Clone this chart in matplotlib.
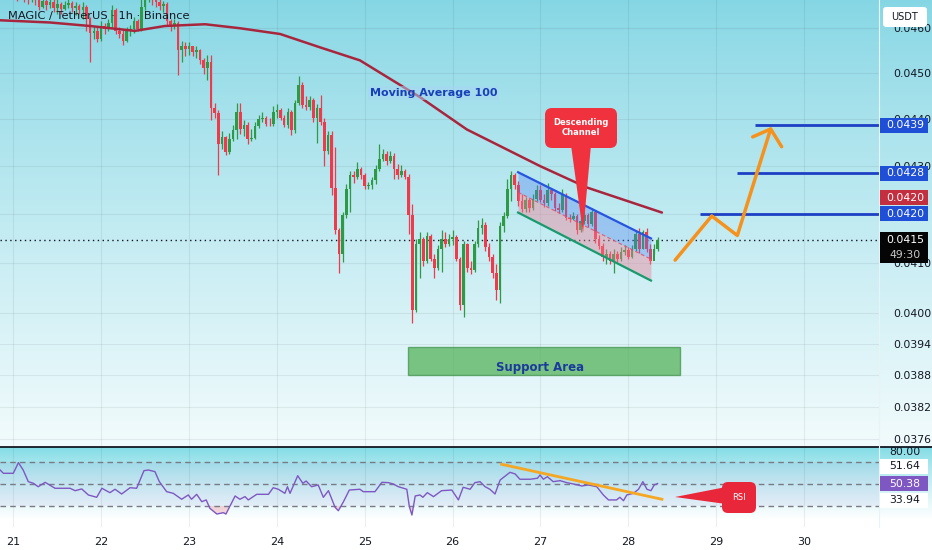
import numpy as np
import matplotlib
matplotlib.use("Agg")
import matplotlib.pyplot as plt
from matplotlib.patches import FancyBboxPatch, Polygon, Rectangle
from matplotlib.lines import Line2D
from matplotlib.ticker import FixedLocator, NullLocator

# ---------------- data ----------------
first_hour = -3          # hours relative to day 21 00:00
first_open = 0.04680
closes = [0.04692, 0.04685, 0.04698, 0.04681, 0.04677, 0.04690, 0.04672, 0.04668, 0.04677, 0.04666,
          0.04648, 0.04661, 0.04653, 0.04659, 0.04646, 0.04655, 0.04644, 0.04653, 0.04657, 0.04646,
          0.04650, 0.04642, 0.04648, 0.04620, 0.04589, 0.04594, 0.04576, 0.04605, 0.04598, 0.04611,
          0.04642, 0.04594, 0.04587, 0.04572, 0.04594, 0.04598, 0.04616, 0.04598, 0.04648, 0.04670,
          0.04681, 0.04666, 0.04659, 0.04650, 0.04655, 0.04616, 0.04605, 0.04611, 0.04550, 0.04561,
          0.04554, 0.04559, 0.04546, 0.04550, 0.04528, 0.04511, 0.04524, 0.04424, 0.04413, 0.04345,
          0.04360, 0.04328, 0.04356, 0.04375, 0.04415, 0.04377, 0.04387, 0.04356, 0.04358, 0.04385,
          0.04400, 0.04402, 0.04389, 0.04388, 0.04415, 0.04419, 0.04402, 0.04387, 0.04415, 0.04375,
          0.04435, 0.04474, 0.04430, 0.04426, 0.04441, 0.04402, 0.04424, 0.04394, 0.04330, 0.04366,
          0.04254, 0.04167, 0.04117, 0.04197, 0.04250, 0.04280, 0.04275, 0.04292, 0.04280, 0.04257,
          0.04259, 0.04269, 0.04292, 0.04313, 0.04324, 0.04309, 0.04320, 0.04292, 0.04280, 0.04288,
          0.04275, 0.04197, 0.04006, 0.04137, 0.04147, 0.04103, 0.04153, 0.04107, 0.04090, 0.04127,
          0.04147, 0.04137, 0.04147, 0.04151, 0.04107, 0.04016, 0.04137, 0.04090, 0.04086, 0.04137,
          0.04171, 0.04177, 0.04131, 0.04111, 0.04080, 0.04046, 0.04175, 0.04195, 0.04250, 0.04280,
          0.04259, 0.04225, 0.04210, 0.04227, 0.04212, 0.04231, 0.04248, 0.04229, 0.04221, 0.04248,
          0.04240, 0.04212, 0.04208, 0.04238, 0.04191, 0.04189, 0.04195, 0.04167, 0.04185, 0.04197,
          0.04179, 0.04204, 0.04147, 0.04133, 0.04111, 0.04117, 0.04103, 0.04117, 0.04107, 0.04121,
          0.04125, 0.04111, 0.04127, 0.04159, 0.04127, 0.04163, 0.04127, 0.04103, 0.04127, 0.04145]
highs = [0.04714, 0.04703, 0.04714, 0.04703, 0.04692, 0.04703, 0.04692, 0.04685, 0.04690, 0.04681,
         0.04670, 0.04677, 0.04670, 0.04672, 0.04666, 0.04668, 0.04659, 0.04663, 0.04668, 0.04663,
         0.04659, 0.04655, 0.04659, 0.04653, 0.04626, 0.04605, 0.04602, 0.04616, 0.04611, 0.04620,
         0.04653, 0.04646, 0.04602, 0.04598, 0.04602, 0.04607, 0.04626, 0.04620, 0.04670, 0.04692,
         0.04703, 0.04692, 0.04677, 0.04670, 0.04663, 0.04659, 0.04620, 0.04620, 0.04616, 0.04572,
         0.04568, 0.04568, 0.04561, 0.04559, 0.04554, 0.04533, 0.04539, 0.04539, 0.04435, 0.04419,
         0.04373, 0.04364, 0.04370, 0.04387, 0.04435, 0.04435, 0.04398, 0.04394, 0.04377, 0.04394,
         0.04408, 0.04415, 0.04406, 0.04402, 0.04428, 0.04432, 0.04424, 0.04408, 0.04424, 0.04419,
         0.04441, 0.04493, 0.04480, 0.04450, 0.04450, 0.04446, 0.04432, 0.04452, 0.04402, 0.04373,
         0.04373, 0.04339, 0.04171, 0.04204, 0.04261, 0.04288, 0.04288, 0.04307, 0.04297, 0.04284,
         0.04265, 0.04275, 0.04301, 0.04345, 0.04335, 0.04330, 0.04330, 0.04326, 0.04303, 0.04301,
         0.04292, 0.04282, 0.04219, 0.04147, 0.04163, 0.04151, 0.04163, 0.04157, 0.04117, 0.04135,
         0.04167, 0.04163, 0.04157, 0.04167, 0.04155, 0.04111, 0.04143, 0.04139, 0.04103, 0.04143,
         0.04187, 0.04191, 0.04183, 0.04139, 0.04117, 0.04097, 0.04183, 0.04204, 0.04271, 0.04288,
         0.04284, 0.04267, 0.04240, 0.04235, 0.04233, 0.04240, 0.04259, 0.04259, 0.04240, 0.04263,
         0.04254, 0.04244, 0.04221, 0.04250, 0.04242, 0.04199, 0.04204, 0.04199, 0.04191, 0.04204,
         0.04202, 0.04212, 0.04208, 0.04155, 0.04139, 0.04127, 0.04123, 0.04127, 0.04123, 0.04131,
         0.04135, 0.04131, 0.04135, 0.04167, 0.04171, 0.04167, 0.04171, 0.04137, 0.04137, 0.04151]
lows = [0.04677, 0.04670, 0.04681, 0.04668, 0.04663, 0.04670, 0.04659, 0.04655, 0.04659, 0.04653,
        0.04642, 0.04646, 0.04642, 0.04646, 0.04637, 0.04633, 0.04633, 0.04642, 0.04646, 0.04637,
        0.04629, 0.04633, 0.04620, 0.04594, 0.04524, 0.04576, 0.04568, 0.04572, 0.04587, 0.04594,
        0.04602, 0.04587, 0.04578, 0.04563, 0.04568, 0.04583, 0.04589, 0.04594, 0.04594, 0.04642,
        0.04659, 0.04653, 0.04648, 0.04642, 0.04637, 0.04607, 0.04594, 0.04598, 0.04496, 0.04524,
        0.04537, 0.04539, 0.04537, 0.04533, 0.04520, 0.04498, 0.04485, 0.04398, 0.04402, 0.04280,
        0.04335, 0.04322, 0.04324, 0.04352, 0.04356, 0.04368, 0.04364, 0.04345, 0.04352, 0.04356,
        0.04381, 0.04394, 0.04385, 0.04385, 0.04385, 0.04402, 0.04398, 0.04383, 0.04381, 0.04366,
        0.04370, 0.04430, 0.04424, 0.04419, 0.04419, 0.04394, 0.04349, 0.04387, 0.04299, 0.04324,
        0.04238, 0.04157, 0.04080, 0.04101, 0.04191, 0.04204, 0.04263, 0.04271, 0.04271, 0.04250,
        0.04250, 0.04250, 0.04261, 0.04288, 0.04309, 0.04301, 0.04305, 0.04271, 0.04271, 0.04275,
        0.04271, 0.04157, 0.03980, 0.04002, 0.04070, 0.04094, 0.04099, 0.04103, 0.04070, 0.04086,
        0.04082, 0.04131, 0.04133, 0.04135, 0.04103, 0.04006, 0.03992, 0.04082, 0.04078, 0.04082,
        0.04131, 0.04159, 0.04123, 0.04103, 0.04070, 0.04026, 0.04020, 0.04163, 0.04191, 0.04225,
        0.04250, 0.04216, 0.04204, 0.04204, 0.04204, 0.04208, 0.04225, 0.04223, 0.04214, 0.04216,
        0.04229, 0.04206, 0.04202, 0.04204, 0.04187, 0.04183, 0.04187, 0.04157, 0.04163, 0.04179,
        0.04173, 0.04175, 0.04139, 0.04127, 0.04103, 0.04097, 0.04097, 0.04080, 0.04101, 0.04103,
        0.04115, 0.04107, 0.04109, 0.04123, 0.04119, 0.04127, 0.04121, 0.04097, 0.04117, 0.04123]

ma_hours = [-3.6, 10, 21, 33.2, 41.4, 52.4, 61.9, 72.9, 83.8, 94.7, 111.1, 123.9, 143.9, 156.7, 177.2]
ma_values = [0.04618, 0.04613, 0.04605, 0.04594, 0.04605, 0.04609, 0.04600, 0.04587, 0.04557,
             0.04528, 0.04447, 0.04377, 0.04299, 0.04254, 0.04202]

rsi_hours = [-3.6, -2.7, 0, 1.4, 2.7, 4.1, 5.5, 6.8, 8.7, 11.4, 15.5, 16.9, 18.7, 20.5, 22.8, 24.2,
             26.4, 27.8, 29.6, 31.9, 33.7, 35.7, 36.9, 38.7, 39.9, 41.9, 43.7, 46.0, 47.8, 48.7,
             50.1, 51.5, 52.7, 53.7, 55.6, 57.4, 58.1, 60.6, 61.9, 63.3, 64.2, 66.5, 69.7, 71.0,
             72.4, 74.2, 74.9, 75.6, 77.7, 79.1, 80.0, 81.5, 83.3, 84.7, 86.1, 87.9, 88.8, 90.2,
             91.8, 94.7, 95.6, 98.8, 100.7, 102.5, 103.8, 105.2, 107.5, 108.2, 108.9, 109.8, 111.1,
             111.9, 113.1, 114.8, 117.0, 119.8, 121.6, 122.9, 124.8, 126.1, 127.5, 128.9, 130.2,
             131.6, 133.0, 135.7, 137.1, 138.4, 141.2, 143.2, 143.9, 144.8, 145.9, 147.5, 149.4,
             151.2, 153.0, 155.3, 157.1, 159.4, 161.2, 162.6, 164.8, 165.7, 166.7, 167.6, 169.4,
             170.8, 172.0, 173.1, 174.2, 175.1, 176.0]
rsi_values = [62.7, 59.7, 59.7, 69.4, 62.7, 52.1, 50.6, 47.5, 51.5, 46.1, 46.1, 43.9, 45.5, 40.0,
              37.9, 46.1, 42.1, 45.2, 40.9, 46.6, 46.1, 62.1, 62.7, 61.2, 52.1, 43.0, 41.5, 36.1,
              40.0, 36.1, 40.6, 33.9, 35.5, 27.9, 22.7, 23.9, 22.7, 39.1, 36.1, 38.5, 35.5, 40.6,
              40.6, 46.6, 45.2, 41.5, 47.5, 41.5, 57.5, 50.6, 52.7, 47.5, 49.1, 37.9, 43.9, 28.8,
              25.7, 33.9, 44.5, 45.2, 43.0, 43.0, 51.5, 51.2, 50.0, 47.5, 45.2, 29.4, 21.8, 39.1,
              40.0, 37.9, 42.1, 38.5, 43.9, 44.5, 35.5, 47.0, 45.2, 51.2, 52.1, 47.5, 45.2, 40.9,
              53.6, 60.6, 59.1, 54.3, 54.3, 55.2, 58.2, 54.3, 56.6, 52.1, 53.0, 51.2, 50.0, 48.2,
              49.1, 47.5, 40.0, 35.5, 35.5, 37.9, 34.8, 40.0, 41.5, 45.2, 52.1, 45.2, 43.9, 49.1, 50.4]

channel_hours = [137.9, 174.2]
channel_upper = [0.04286, 0.04149]
channel_mid = [0.04244, 0.04107]
channel_lower = [0.04202, 0.04064]

target_levels = [0.04200, 0.04284, 0.04386]
target_labels = ["0.0420", "0.0428", "0.0439"]
target_start_hours = [187.6, 197.7, 202.6]

path_hours = [180.8, 190.8, 197.8, 206.9]
path_prices = [0.04105, 0.04195, 0.04155, 0.04378]
head_hours = [202.0, 206.9, 209.9]
head_prices = [0.04361, 0.04378, 0.04340]

support_hours = [107.8, 182.2]
support_prices = [0.03880, 0.03933]

rsi_trend_hours = [133.4, 177.2]
rsi_trend_values = [67.9, 36.1]

price_ticks = [0.0376, 0.0382, 0.0388, 0.0394, 0.0400, 0.0410, 0.0420, 0.0430, 0.0440, 0.0450, 0.0460]
hidden_ticks = [0.0420]   # fully covered by the price tags in the reference
day_labels = ["21", "22", "23", "24", "25", "26", "27", "28", "29", "30"]
ma_label_value = "0.0420"
price_label_value = "0.0415"
countdown = "49:30"
rsi_side_labels = ["80.00", "51.64", "50.38", "33.94"]

# ---------------- figure ----------------
W, H = 932, 550
plt.rcParams['font.family'] = ['DejaVu Sans']
fig = plt.figure(figsize=(W / 100, H / 100), dpi=100)
TXT = '#131722'

# background gradient
bg = fig.add_axes([0, 0, 1, 1], zorder=-10)
grad = np.ones((H, 1, 3))
c_top = np.array([0.52, 0.84, 0.895])
c_bot = np.array([0.95, 0.985, 0.99])
r_top = np.array([0.50, 0.86, 0.90])
for r in range(H):
    if r <= 446:
        f = (r / 446.0) ** 0.85
        grad[r, 0] = c_top + (c_bot - c_top) * f
    elif r <= 527:
        f = min(1.0, (r - 447) / 72.0) ** 0.8
        grad[r, 0] = r_top + (np.ones(3) - r_top) * f
bg.imshow(grad, aspect='auto', extent=[0, 1, 0, 1], interpolation='bilinear')
bg.axis('off')

PLOT_R = 879
ax = fig.add_axes([0, 1 - 446 / H, PLOT_R / W, 446 / H])
rax = fig.add_axes([0, 1 - 527 / H, PLOT_R / W, 80 / H])
for a in (ax, rax):
    a.set_facecolor('none')
    for s in a.spines.values():
        s.set_visible(False)

xlim = (-3.63, 236.5)
ax.set_yscale('log')
ax.set_ylim(0.03747, 0.046642)
ax.set_xlim(*xlim)
ax.yaxis.set_major_locator(FixedLocator(price_ticks))
ax.yaxis.set_minor_locator(NullLocator())
ax.set_yticklabels(["" if p in hidden_ticks else f"{p:.4f}" for p in price_ticks])
ax.yaxis.tick_right()
ax.tick_params(axis='y', length=0, pad=10, labelsize=7.8, labelcolor=TXT)
day_hours = [24 * i for i in range(len(day_labels))]
ax.set_xticks(day_hours)
ax.tick_params(axis='x', length=0, labelbottom=False)
ax.grid(True, color='#2a2e39', alpha=0.08, lw=0.8)

# candles
t = np.arange(first_hour, first_hour + len(closes))
c = np.array(closes)
o = np.array([first_open] + closes[:-1])
up = c >= o
cols = np.where(up, '#2e9a46', '#ef3a4b')
ax.vlines(t, lows, highs, colors=cols, lw=0.9, zorder=3)
ax.bar(t, np.abs(c - o), bottom=np.minimum(o, c), width=0.72, color=cols, lw=0, zorder=4)

# MA 100
ax.plot(ma_hours, ma_values, color='#a8263d', lw=1.8, zorder=5, solid_capstyle='round')

# channel
ax.fill_between(channel_hours, channel_mid, channel_upper, color='#4f7ff0', alpha=0.35, lw=0, zorder=6)
ax.fill_between(channel_hours, channel_lower, channel_mid, color='#f07f95', alpha=0.42, lw=0, zorder=6)
ax.plot(channel_hours, channel_upper, color='#2755e0', lw=1.6, zorder=7)
ax.plot(channel_hours, channel_lower, color='#189a6c', lw=1.6, zorder=7)
ax.plot(channel_hours, channel_mid, color='#e0506a', lw=0.9, ls=(0, (3, 2)), alpha=0.8, zorder=7)

# current price line
ax.axhline(closes[-1], color=TXT, lw=1, ls=(0, (1, 2.5)), zorder=2)

# targets
for lvl, st in zip(target_levels, target_start_hours):
    ax.hlines(lvl, st, xlim[1], color='#1c3fc4', lw=2, zorder=7)

# orange projection
ax.plot(path_hours, path_prices, color='#f5921e', lw=2.5, zorder=8, solid_capstyle='round', solid_joinstyle='round')
ax.plot(head_hours, head_prices, color='#f5921e', lw=2.5, zorder=8, solid_capstyle='round', solid_joinstyle='round')

# support area
ax.add_patch(Rectangle((support_hours[0], support_prices[0]), support_hours[1] - support_hours[0],
                       support_prices[1] - support_prices[0], facecolor='#4caf50', alpha=0.7,
                       edgecolor='#3d8f48', lw=1, zorder=2))
ax.text(np.mean(support_hours) - 1, 0.03895, "Support Area", ha='center', va='center',
        fontsize=8.5, fontweight='bold', color='#1a3a9c', zorder=9)

ax.text(114.9, 0.04456, "Moving Average 100", ha='center', va='center', fontsize=8,
        fontweight='bold', color='#1740b8', zorder=9,
        bbox=dict(boxstyle='square,pad=0.15', fc='#a8d4f2', ec='none', alpha=0.5))

ax.text(8 / PLOT_R, 1 - 16 / 446, "MAGIC / TetherUS · 1h · Binance", transform=ax.transAxes,
        ha='left', va='center', fontsize=8.2, color=TXT, zorder=10)

# RSI panel
rax.set_xlim(*xlim)
rax.set_ylim(10.9, 83.6)
rax.set_yticks([])
rax.set_xticks(day_hours)
rax.set_xticklabels(day_labels)
rax.tick_params(axis='x', length=0, pad=7, labelsize=8, labelcolor=TXT)
rax.grid(True, axis='x', color='#2a2e39', alpha=0.08, lw=0.8)
rax.axhspan(30, 70, color='#7e57c2', alpha=0.07, lw=0)
for lv in (70, 50, 30):
    rax.axhline(lv, color='#787b86', lw=1, ls=(0, (4, 3)), zorder=2)
rv = np.array(rsi_values)
rax.fill_between(rsi_hours, rv, 30, where=rv < 30, interpolate=True, color='#f23645', alpha=0.2, lw=0)
rax.plot(rsi_hours, rsi_values, color='#7e57c2', lw=1, zorder=4)
rax.plot(rsi_trend_hours, rsi_trend_values, color='#f5a623', lw=2, zorder=5)

# separator line
fig.add_artist(Line2D([0, 1], [1 - 446.5 / H] * 2, transform=fig.transFigure, color=TXT, lw=1.3))
fig.add_artist(Line2D([PLOT_R / W] * 2, [1 - 527 / H, 1], transform=fig.transFigure, color='#e6f4f6', lw=0.8))

# overlay in pixel coordinates for tags and callouts
ov = fig.add_axes([0, 0, 1, 1], zorder=20)
ov.set_xlim(0, W)
ov.set_ylim(H, 0)
ov.axis('off')
ov.set_facecolor('none')


def py_price(p):
    return H - ax.transData.transform((0, p))[1]


def py_rsi(v):
    return H - rax.transData.transform((0, v))[1]


def tag(yc, text, fc, tc='white', h=15):
    ov.add_patch(Rectangle((880, yc - h / 2), 48, h, fc=fc, ec='none'))
    ov.text(905, yc, text, ha='center', va='center', fontsize=7.8, color=tc)


# USDT box
ov.add_patch(FancyBboxPatch((883, 7), 44, 20, boxstyle='round,pad=0,rounding_size=3', fc='white', ec='none'))
ov.text(905, 17.5, "USDT", ha='center', va='center', fontsize=7, color=TXT)

tag(py_price(target_levels[2]), target_labels[2], '#1f4fd6')
tag(py_price(target_levels[1]), target_labels[1], '#1f4fd6')
tag(py_price(target_levels[0]) - 16, ma_label_value, '#c42f3f')
tag(py_price(target_levels[0]), target_labels[0], '#1f4fd6')
yc = py_price(closes[-1])
ov.add_patch(Rectangle((880, yc - 8), 48, 31, fc='#050505', ec='none'))
ov.text(905, yc, price_label_value, ha='center', va='center', fontsize=7.8, color='white')
ov.text(905, yc + 15, countdown, ha='center', va='center', fontsize=7.8, color='#c8c8c8')

# RSI side labels
ov.text(905, py_rsi(80) + 1, rsi_side_labels[0], ha='center', va='center', fontsize=7.8, color=TXT)
tag(466, rsi_side_labels[1], 'white', TXT)
tag(py_rsi(rsi_values[-1]), rsi_side_labels[2], '#7e57c2')
tag(500, rsi_side_labels[3], 'white', TXT)

# Descending channel callout
ov.add_patch(Polygon([(571, 145), (591, 145), (583, 233)], closed=True, fc='#f0323f', ec='none'))
ov.add_patch(FancyBboxPatch((545, 108), 72, 40, boxstyle='round,pad=0,rounding_size=7', fc='#f0323f', ec='none'))
ov.text(581, 127.5, "Descending\nChannel", ha='center', va='center', fontsize=6, fontweight='bold',
        color='white', linespacing=1.15)

# RSI callout
ov.add_patch(Polygon([(675, 497), (726, 487), (726, 504)], closed=True, fc='#e8283a', ec='none'))
ov.add_patch(FancyBboxPatch((722, 482), 34, 31, boxstyle='round,pad=0,rounding_size=6', fc='#e8283a', ec='none'))
ov.text(739, 497, "RSI", ha='center', va='center', fontsize=6, color='white')

fig.savefig('out.png', dpi=100)
